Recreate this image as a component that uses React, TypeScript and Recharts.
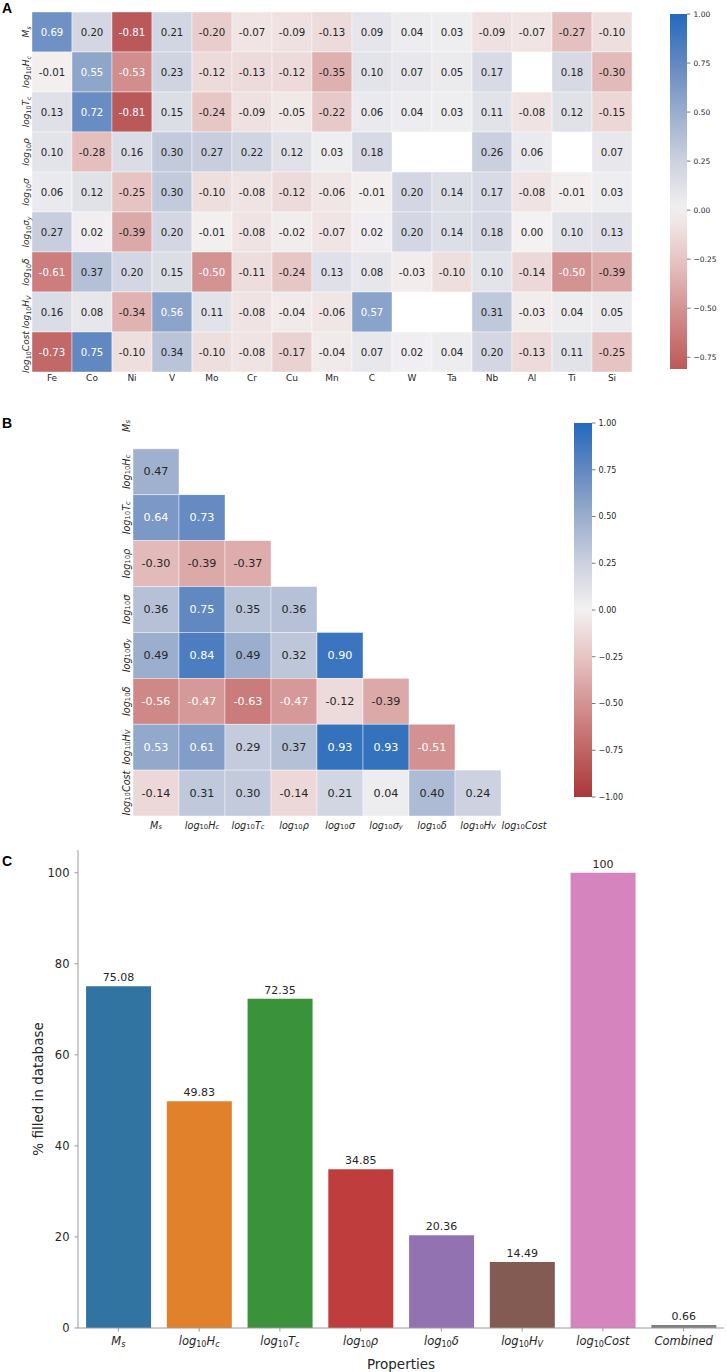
import React from "react";
import { Bar, BarChart, Cell, LabelList, Scatter, ScatterChart, XAxis, YAxis } from "recharts";

const FONT = "DejaVu Sans";
const INK = "#262626";
const SPINE = "#9a9a9a";

// ── Panel A: property × element correlations ────────────────────────────────
const ELEMENTS = ["Fe", "Co", "Ni", "V", "Mo", "Cr", "Cu", "Mn", "C", "W", "Ta", "Nb", "Al", "Ti", "Si"];
const PROPS = ["M_s", "log_{10}H_c", "log_{10}T_c", "log_{10}ρ", "log_{10}σ", "log_{10}σ_y", "log_{10}δ", "log_{10}H_V", "log_{10}Cost"];

const A_MS = [0.69, 0.2, -0.81, 0.21, -0.2, -0.07, -0.09, -0.13, 0.09, 0.04, 0.03, -0.09, -0.07, -0.27, -0.1];
const A_HC = [-0.01, 0.55, -0.53, 0.23, -0.12, -0.13, -0.12, -0.35, 0.1, 0.07, 0.05, 0.17, null, 0.18, -0.3];
const A_TC = [0.13, 0.72, -0.81, 0.15, -0.24, -0.09, -0.05, -0.22, 0.06, 0.04, 0.03, 0.11, -0.08, 0.12, -0.15];
const A_RHO = [0.1, -0.28, 0.16, 0.3, 0.27, 0.22, 0.12, 0.03, 0.18, null, null, 0.26, 0.06, null, 0.07];
const A_SIGMA = [0.06, 0.12, -0.25, 0.3, -0.1, -0.08, -0.12, -0.06, -0.01, 0.2, 0.14, 0.17, -0.08, -0.01, 0.03];
const A_SIGMA_Y = [0.27, 0.02, -0.39, 0.2, -0.01, -0.08, -0.02, -0.07, 0.02, 0.2, 0.14, 0.18, 0.0, 0.1, 0.13];
const A_DELTA = [-0.61, 0.37, 0.2, 0.15, -0.5, -0.11, -0.24, 0.13, 0.08, -0.03, -0.1, 0.1, -0.14, -0.5, -0.39];
const A_HV = [0.16, 0.08, -0.34, 0.56, 0.11, -0.08, -0.04, -0.06, 0.57, null, null, 0.31, -0.03, 0.04, 0.05];
const A_COST = [-0.73, 0.75, -0.1, 0.34, -0.1, -0.08, -0.17, -0.04, 0.07, 0.02, 0.04, 0.2, -0.13, 0.11, -0.25];
const A_ROWS = [A_MS, A_HC, A_TC, A_RHO, A_SIGMA, A_SIGMA_Y, A_DELTA, A_HV, A_COST];
const A_CB_MIN = -0.81;
const A_CB_TICKS = [-0.75, -0.5, -0.25, 0, 0.25, 0.5, 0.75, 1];

// ── Panel B: property × property (lower triangle) ───────────────────────────
const B_HC = [0.47];
const B_TC = [0.64, 0.73];
const B_RHO = [-0.3, -0.39, -0.37];
const B_SIGMA = [0.36, 0.75, 0.35, 0.36];
const B_SIGMA_Y = [0.49, 0.84, 0.49, 0.32, 0.9];
const B_DELTA = [-0.56, -0.47, -0.63, -0.47, -0.12, -0.39];
const B_HV = [0.53, 0.61, 0.29, 0.37, 0.93, 0.93, -0.51];
const B_COST = [-0.14, 0.31, 0.3, -0.14, 0.21, 0.04, 0.4, 0.24];
const B_ROWS = [[], B_HC, B_TC, B_RHO, B_SIGMA, B_SIGMA_Y, B_DELTA, B_HV, B_COST];
const B_CB_TICKS = [-1, -0.75, -0.5, -0.25, 0, 0.25, 0.5, 0.75, 1];

// ── Panel C: % filled ──────────────────────────────────────────────────────
const FILL_PROPS = ["M_s", "log_{10}H_c", "log_{10}T_c", "log_{10}ρ", "log_{10}δ", "log_{10}H_V", "log_{10}Cost", "Combined"];
const FILL_PCT = [75.08, 49.83, 72.35, 34.85, 20.36, 14.49, 100, 0.66];
const FILL_TICKS = [0, 20, 40, 60, 80, 100];
const BAR_COLORS = ["#3274a1", "#e1812c", "#3a923a", "#c03d3e", "#9372b2", "#845b53", "#d684bd", "#7f7f7f"];

// vlag_r-like diverging map, blue positive / red negative
const CMAP: [number, number[]][] = [
  [-1, [169, 55, 59]],
  [-0.75, [193, 100, 100]],
  [-0.5, [212, 147, 147]],
  [-0.25, [231, 196, 196]],
  [0, [243, 241, 241]],
  [0.25, [204, 209, 223]],
  [0.5, [154, 173, 205]],
  [0.75, [98, 136, 193]],
  [1, [35, 105, 189]],
];

function cmap(v: number) {
  const x = Math.max(-1, Math.min(1, v));
  for (let i = 0; i < CMAP.length - 1; i++) {
    const [a, ca] = CMAP[i];
    const [b, cb] = CMAP[i + 1];
    if (x <= b) {
      const t = (x - a) / (b - a);
      return ca.map((c, k) => c + (cb[k] - c) * t);
    }
  }
  return CMAP[CMAP.length - 1][1];
}
const rgb = (c: number[]) => `rgb(${c.map((x) => Math.round(x)).join(",")})`;
function lum(c: number[]) {
  const f = (x: number) => {
    const s = x / 255;
    return s <= 0.03928 ? s / 12.92 : ((s + 0.055) / 1.055) ** 2.4;
  };
  return 0.2126 * f(c[0]) + 0.7152 * f(c[1]) + 0.0722 * f(c[2]);
}
const cbFmt = (v: number) => (v < 0 ? "\u2212" : "") + Math.abs(v).toFixed(2);

// tiny mathtext: "log_{10}H_c" -> tspans
function parseMath(s: string) {
  const out: { t: string; sub: boolean }[] = [];
  let buf = "";
  let i = 0;
  while (i < s.length) {
    if (s[i] === "_") {
      if (buf) out.push({ t: buf, sub: false });
      buf = "";
      if (s[i + 1] === "{") {
        const j = s.indexOf("}", i);
        out.push({ t: s.slice(i + 2, j), sub: true });
        i = j + 1;
      } else {
        out.push({ t: s[i + 1], sub: true });
        i += 2;
      }
    } else {
      buf += s[i];
      i++;
    }
  }
  if (buf) out.push({ t: buf, sub: false });
  return out;
}

function mathSpans(s: string, fs: number) {
  let down = false;
  return parseMath(s).map((p, i) => {
    let dy = 0;
    if (p.sub && !down) {
      dy = fs * 0.24;
      down = true;
    } else if (!p.sub && down) {
      dy = -fs * 0.24;
      down = false;
    }
    return (
      <tspan key={i} dy={dy || undefined} fontSize={p.sub ? fs * 0.7 : fs} fontStyle={/^\d+$/.test(p.t) ? "normal" : "italic"}>
        {p.t}
      </tspan>
    );
  });
}

function RowTick({ x, y, payload, labels, fs }: any) {
  return (
    <text x={x} y={y} transform={`rotate(-90 ${x} ${y})`} textAnchor="middle" dominantBaseline="central" fontSize={fs} fontFamily={FONT} fill={INK}>
      {mathSpans(labels[payload.value], fs)}
    </text>
  );
}

function ColTick({ x, y, payload, labels, fs, math }: any) {
  const label = labels ? labels[payload.value] : String(payload.value);
  return (
    <text x={x} y={y} textAnchor="middle" dominantBaseline="central" fontSize={fs} fontFamily={FONT} fill={INK}>
      {math ? mathSpans(label, fs) : label}
    </text>
  );
}

function HeatCell({ cx, cy, payload, w, h, fs }: any) {
  const c = cmap(payload.v);
  const light = lum(c) <= 0.408;
  return (
    <g>
      <rect x={cx - w / 2} y={cy - h / 2} width={w} height={h} fill={rgb(c)} stroke="#ffffff" strokeWidth={0.6} strokeOpacity={0.7} />
      <text x={cx} y={cy} textAnchor="middle" dominantBaseline="central" fontSize={fs} fontFamily={FONT} fill={light ? "#ffffff" : INK}>
        {payload.v.toFixed(2)}
      </text>
    </g>
  );
}

function toCells(rows: (number | null)[][]) {
  const cells: { x: number; y: number; v: number }[] = [];
  rows.forEach((r, y) => r.forEach((v, x) => v != null && cells.push({ x, y, v })));
  return cells;
}

function Colorbar({ id, lo, hi, ticks, width, height, margin, axisW, fs }: any) {
  const n = 24;
  const stops = Array.from({ length: n + 1 }, (_, k) => ({ off: k / n, c: rgb(cmap(hi - (k / n) * (hi - lo))) }));
  return (
    <BarChart width={width} height={height} data={[{ name: id, range: [lo, hi] }]} margin={margin} barCategoryGap={0}>
      <defs>
        <linearGradient id={id} x1="0" y1="0" x2="0" y2="1">
          {stops.map((s, i) => (
            <stop key={i} offset={s.off} stopColor={s.c} />
          ))}
        </linearGradient>
      </defs>
      <XAxis dataKey="name" hide />
      <YAxis
        orientation="right"
        type="number"
        domain={[lo, hi]}
        ticks={ticks}
        width={axisW}
        axisLine={false}
        tickSize={3.5}
        tickMargin={3}
        tickLine={{ stroke: "#555", strokeWidth: 0.8 }}
        tickFormatter={cbFmt}
        tick={{ fontSize: fs, fill: INK, fontFamily: FONT }}
      />
      <Bar dataKey="range" fill={`url(#${id})`} isAnimationActive={false} />
    </BarChart>
  );
}

function PanelA() {
  const cells = toCells(A_ROWS);
  return (
    <ScatterChart width={640} height={400} margin={{ top: 12, right: 8, bottom: 8, left: 0 }}>
      <XAxis
        type="number"
        dataKey="x"
        domain={[-0.5, ELEMENTS.length - 0.5]}
        ticks={ELEMENTS.map((_, i) => i)}
        interval={0}
        height={20}
        axisLine={false}
        tickLine={false}
        tickSize={0}
        tickMargin={6}
        tick={(p: any) => <ColTick {...p} labels={ELEMENTS} fs={9} />}
      />
      <YAxis
        type="number"
        dataKey="y"
        reversed
        domain={[-0.5, PROPS.length - 0.5]}
        ticks={PROPS.map((_, i) => i)}
        interval={0}
        width={32}
        axisLine={false}
        tickLine={false}
        tickSize={0}
        tickMargin={6}
        tick={(p: any) => <RowTick {...p} labels={PROPS} fs={9} />}
      />
      <Scatter data={cells} isAnimationActive={false} shape={(p: any) => <HeatCell {...p} w={40} h={40} fs={10.2} />} />
    </ScatterChart>
  );
}

function PanelB() {
  const cells = toCells(B_ROWS);
  return (
    <ScatterChart width={560} height={450} margin={{ top: 13, right: 13, bottom: 8, left: 0 }}>
      <XAxis
        type="number"
        dataKey="x"
        domain={[-0.5, PROPS.length - 0.5]}
        ticks={PROPS.map((_, i) => i)}
        interval={0}
        height={16}
        axisLine={false}
        tickLine={false}
        tickSize={0}
        tickMargin={9}
        tick={(p: any) => <ColTick {...p} labels={PROPS} fs={9.7} math />}
      />
      <YAxis
        type="number"
        dataKey="y"
        reversed
        domain={[-0.5, PROPS.length - 0.5]}
        ticks={PROPS.map((_, i) => i)}
        interval={0}
        width={133}
        axisLine={false}
        tickLine={false}
        tickSize={0}
        tickMargin={7}
        tick={(p: any) => <RowTick {...p} labels={PROPS} fs={9.7} />}
      />
      <Scatter data={cells} isAnimationActive={false} shape={(p: any) => <HeatCell {...p} w={46} h={45.9} fs={11.2} />} />
    </ScatterChart>
  );
}

function PanelC() {
  const data = FILL_PROPS.map((name, i) => ({ name, pct: FILL_PCT[i] }));
  return (
    <BarChart width={727} height={532} data={data} margin={{ top: 10, right: 3, bottom: 0, left: 0 }} barCategoryGap="10%">
      <XAxis
        dataKey="name"
        height={44}
        interval={0}
        axisLine={{ stroke: SPINE }}
        tickLine={{ stroke: SPINE }}
        tickSize={3.5}
        tickMargin={9.5}
        tick={(p: any) => <ColTick {...p} fs={11.5} math />}
        label={{ value: "Properties", position: "insideBottom", offset: 3, fontSize: 13.5, fill: INK, fontFamily: FONT }}
      />
      <XAxis xAxisId="top" dataKey="name" orientation="top" height={0} tick={false} tickLine={false} axisLine={{ stroke: SPINE }} />
      <YAxis
        type="number"
        domain={[0, 105]}
        ticks={FILL_TICKS}
        width={78}
        axisLine={{ stroke: SPINE }}
        tickLine={{ stroke: SPINE }}
        tickSize={3.5}
        tickMargin={5}
        tick={{ fontSize: 11.5, fill: INK, fontFamily: FONT }}
        label={{ value: "% filled in database", angle: -90, position: "center", dx: -1, fontSize: 13.5, fill: INK, fontFamily: FONT }}
      />
      <YAxis yAxisId="right" orientation="right" type="number" domain={[0, 105]} width={0} tick={false} tickLine={false} axisLine={{ stroke: SPINE }} />
      <Bar dataKey="pct" isAnimationActive={false}>
        {data.map((d, i) => (
          <Cell key={d.name} fill={BAR_COLORS[i]} />
        ))}
        <LabelList dataKey="pct" position="top" offset={5} fontSize={11} fill={INK} fontFamily={FONT} formatter={(v: any) => String(v)} />
      </Bar>
    </BarChart>
  );
}

export default function App() {
  return (
    <div style={{ position: "absolute", left: 0, top: 0, width: 727, height: 1372, background: "#ffffff", fontFamily: FONT }}>
      <div style={{ position: "absolute", left: 0, top: 0 }}>
        <PanelA />
      </div>
      <div style={{ position: "absolute", left: 660, top: 0 }}>
        <Colorbar id="cbA" lo={A_CB_MIN} hi={1} ticks={A_CB_TICKS} width={67} height={380} margin={{ top: 14, right: 0, bottom: 11, left: 10 }} axisW={40} fs={7.5} />
      </div>
      <div style={{ position: "absolute", left: 0, top: 390 }}>
        <PanelB />
      </div>
      <div style={{ position: "absolute", left: 564, top: 410 }}>
        <Colorbar id="cbB" lo={-1} hi={1} ticks={B_CB_TICKS} width={163} height={400} margin={{ top: 13, right: 0, bottom: 13, left: 10 }} axisW={135} fs={8} />
      </div>
      <div style={{ position: "absolute", left: 0, top: 840 }}>
        <PanelC />
      </div>
      <svg width={727} height={1372} style={{ position: "absolute", left: 0, top: 0, pointerEvents: "none" }}>
        <g fontFamily="Liberation Sans" fontWeight="bold" fontSize={14} fill="#000">
          <text x={2} y={13}>A</text>
          <text x={2} y={428}>B</text>
          <text x={2} y={866}>C</text>
        </g>
      </svg>
    </div>
  );
}
